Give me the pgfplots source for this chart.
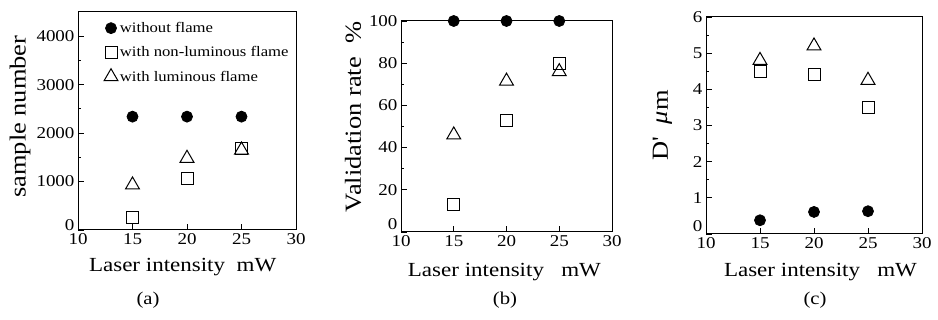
\documentclass[border=0pt]{standalone}
\usepackage{fontspec}
\setmainfont{Liberation Serif}[FakeStretch=1.15]
\usepackage{pgfplots}
\pgfplotsset{compat=1.18}
\pgfplotsset{
  panel/.style={
    scale only axis, anchor=south west, clip=false,
    xmin=10, xmax=30, xtick={10,15,20,25,30},
    tick align=inside, tick pos=left,
    major tick length=6pt, minor tick length=3pt,
    axis line style={line width=1pt},
    every tick/.style={line width=0.8pt,black},
    tick label style={font=\fontsize{16.5}{16.5}\selectfont},
    x label style={font=\fontsize{20}{20}\selectfont},
    y label style={font=\fontsize{23}{23}\selectfont},
    /pgf/number format/assume math mode=true,
    /pgf/number format/1000 sep={},
    scaled ticks=false,
    minor y tick num=1,
    extra y ticks={0},
  },
  cir/.style={only marks, mark=*, mark size=5.5pt, mark options={fill=black,draw=black,line width=0.8pt},
    legend image code/.code={\draw[mark repeat=2,mark phase=2,##1] plot coordinates {(0cm,0cm)(0.2cm,0cm)(0.4cm,0cm)};}},
  sq/.style={only marks, mark=square, mark size=6pt, mark options={line width=1pt},
    legend image code/.code={\draw[mark repeat=2,mark phase=2,##1] plot coordinates {(0cm,0cm)(0.2cm,0cm)(0.4cm,0cm)};}},
  tri/.style={only marks, mark=triangle, mark size=8pt, mark options={line width=1pt},
    legend image code/.code={\draw[mark repeat=2,mark phase=2,##1] plot coordinates {(0cm,0cm)(0.2cm,0cm)(0.4cm,0cm)};}},
}
\begin{document}
\begin{tikzpicture}
\path (0,0) rectangle (938pt,320pt);
% (a)
\begin{axis}[panel, at={(78pt,90pt)}, width=218pt, height=218pt,
  ymin=0, ymax=4500, ytick={1000,2000,3000,4000},
  extra y tick style={yticklabel style={yshift=5pt}},
  xlabel={Laser intensity\ \ mW}, ylabel={sample number},
  x label style={at={(axis description cs:0.48,-0.17)}, anchor=center},
  y label style={at={(axis description cs:-0.266,0.52)}, anchor=center},
  legend style={draw=none, fill=none, at={(axis description cs:0.105,0.972)}, anchor=north west,
    font=\fontsize{14.5}{14.5}\selectfont, row sep=8.5pt, cells={anchor=west}},
]
\addplot[cir] coordinates {(15,2340) (20,2340) (25,2340)};
\addlegendentry{without flame}
\addplot[sq] coordinates {(15,250) (20,1070) (25,1690)};
\addlegendentry{with non-luminous flame}
\addplot[tri] coordinates {(15,930) (20,1480) (25,1650)};
\addlegendentry{with luminous flame}
\end{axis}
% (b)
\begin{axis}[panel, at={(401pt,88pt)}, width=211pt, height=211pt,
  ymin=0, ymax=100, ytick={20,40,60,80,100},
  extra y tick style={yticklabel style={yshift=8pt}},
  xlabel={Laser intensity\ \ \ mW}, ylabel={Validation rate\ \ \%},
  x label style={at={(axis description cs:0.49,-0.19)}, anchor=center},
  y label style={at={(axis description cs:-0.227,0.545)}, anchor=center},
]
\addplot[cir] coordinates {(15,100) (20,100) (25,100)};
\addplot[sq] coordinates {(15,13) (20,53) (25,80)};
\addplot[tri] coordinates {(15,46) (20,71.5) (25,76)};
\end{axis}
% (c)
\begin{axis}[panel, at={(706pt,86pt)}, width=216pt, height=217pt,
  ymin=0, ymax=6, ytick={1,2,3,4,5,6},
  extra y tick style={yticklabel style={yshift=8pt}},
  xlabel={Laser intensity\ \ \ mW}, ylabel={D\textquotesingle\ \ \textit{μ}m},
  x label style={at={(axis description cs:0.53,-0.175)}, anchor=center},
  y label style={at={(axis description cs:-0.2,0.50)}, anchor=center},
]
\addplot[cir] coordinates {(15,0.38) (20,0.61) (25,0.63)};
\addplot[sq] coordinates {(15,4.5) (20,4.4) (25,3.5)};
\addplot[tri] coordinates {(15,4.8) (20,5.2) (25,4.25)};
\end{axis}
\node[font=\fontsize{18}{18}\selectfont] at (148pt,20pt) {(a)};
\node[font=\fontsize{18}{18}\selectfont] at (505pt,20pt) {(b)};
\node[font=\fontsize{18}{18}\selectfont] at (815pt,20pt) {(c)};
\end{tikzpicture}
\end{document}
